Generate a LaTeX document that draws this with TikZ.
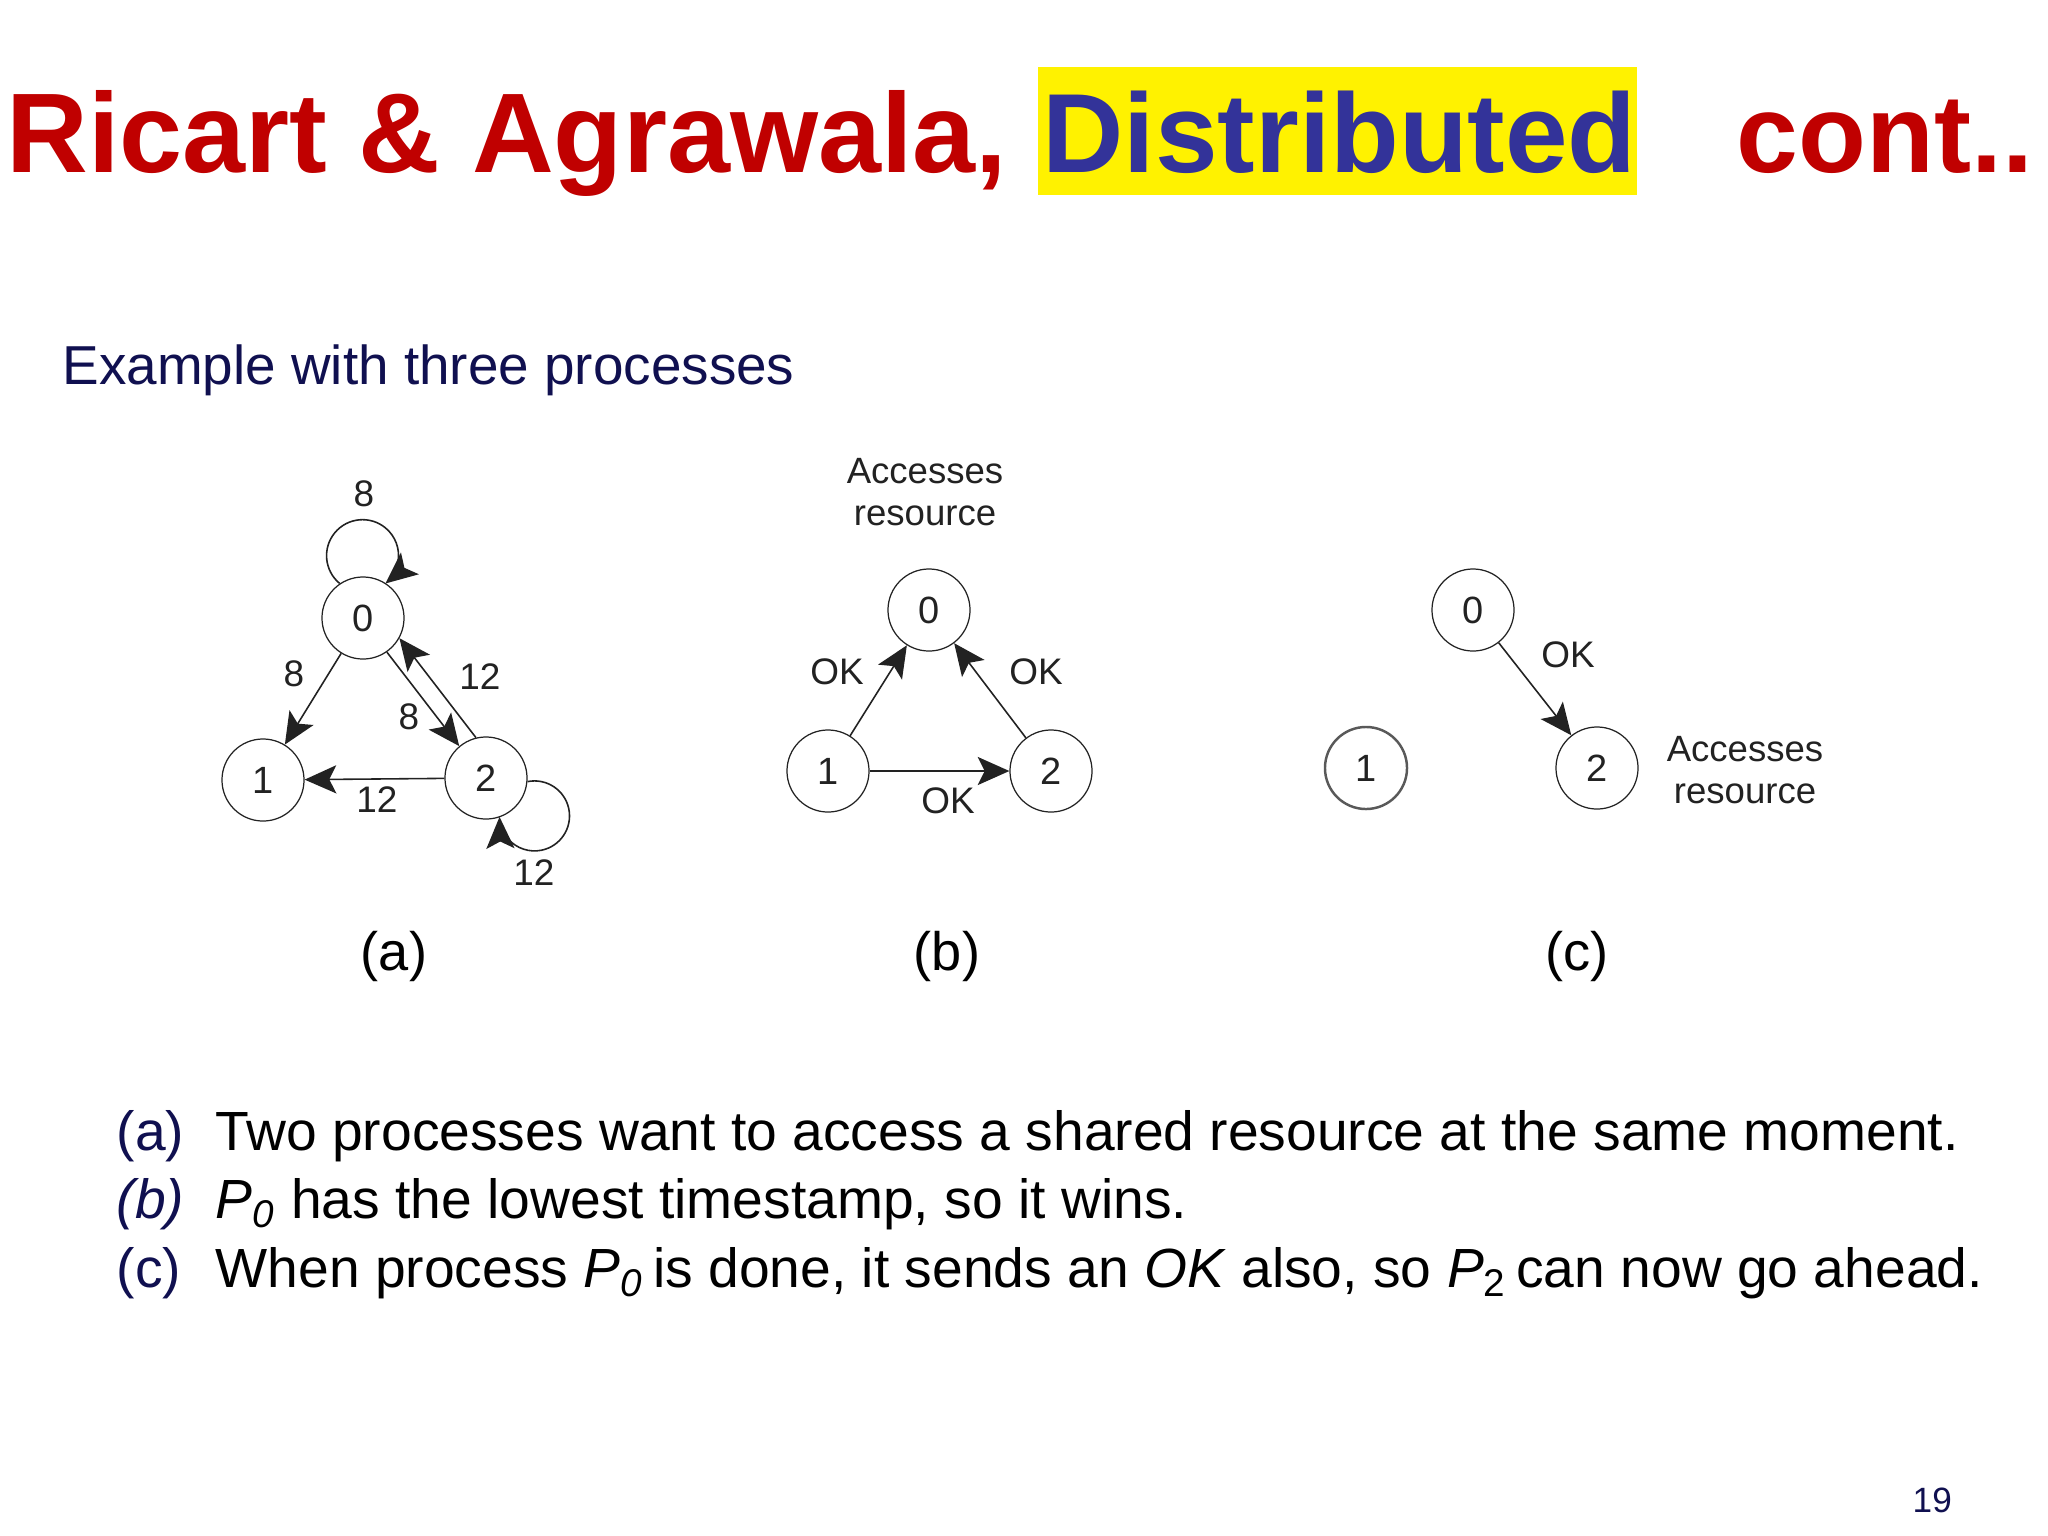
\documentclass[tikz,border=0pt]{standalone}
\usepackage{fontspec}
\setmainfont{Liberation Sans}
\usepackage{xcolor}
\usepackage{tikz}
\usetikzlibrary{arrows.meta}

\definecolor{titlered}{RGB}{192,0,0}
\definecolor{titleblue}{RGB}{51,51,153}
\definecolor{navy}{RGB}{16,16,80}
\definecolor{ink}{RGB}{34,34,34}

\begin{document}
\begin{tikzpicture}[x=0.01cm, y=0.01cm,
	proc/.style={circle, draw=ink, line width=0.35pt, minimum size=0.82cm, inner sep=0pt, text=ink, font=\fontsize{10.8}{12}\selectfont},
	msg/.style={draw=ink, line width=0.45pt, -{Stealth[length=9pt, width=8pt, inset=2pt]}},
	lbl/.style={text=ink, inner sep=0pt, font=\fontsize{10.5}{11}\selectfont},
	note/.style={text=ink, inner sep=0pt, align=center, font=\fontsize{10.4}{11.8}\selectfont},
	body/.style={anchor=base west, inner sep=0pt, font=\fontsize{15.7}{18}\selectfont}]
	\fill[white] (0,0) rectangle (2048,-1536);
	\useasboundingbox (0,0) rectangle (2048,-1536);

	% title
	\fill[yellow] (1038,-67) rectangle (1637,-195);
	\node[anchor=base west, inner sep=0pt, text=titlered, font=\fontsize{32.2}{36}\selectfont\bfseries] (ttl) at (6,-172) {Ricart \& Agrawala,};
	\node[anchor=base west, inner sep=0pt, text=titleblue, font=\fontsize{32}{36}\selectfont\bfseries] (ttldist) at (1042,-172) {Distributed};
	\node[anchor=base west, inner sep=0pt, text=titlered, font=\fontsize{31.6}{36}\selectfont\bfseries] (ttlcont) at (1736,-172) {cont..};
	\node[body, text=navy, font=\fontsize{15.6}{18}\selectfont] (sub) at (62,-384) {Example with three processes};

	% (a)
	\foreach \n/\x/\y in {0/363/-618, 1/263/-780, 2/486/-778}
		\node[proc] (a\n) at (\x,\y) {\n};
	\draw[msg] (a0) -- (a1);
	\draw[msg] (a0.-55.3) -- (a2.130.3);
	\draw[msg] (a2.104.5) -- (a0.-29.5);
	\draw[msg] (a2) -- (a1);
	\draw[msg] (a0.124) arc[start angle=230.6, end angle=-50.6, radius=36];
	\draw[msg] (a2.-5.6) arc[start angle=101.6, end angle=-178.4, radius=35];
	\foreach \i/\x/\y/\t in {1/364/-494/8, 2/294/-674/8, 3/409/-717/8, 4/480/-677/12, 5/377/-800/12, 6/534/-873/12}
		\node[lbl] (la\i) at (\x,\y) {\t};

	% (b)
	\foreach \n/\x/\y in {0/929/-610, 1/828/-771, 2/1051/-771}
		\node[proc] (b\n) at (\x,\y) {\n};
	\draw[msg] (b1) -- (b0);
	\draw[msg] (b2) -- (b0);
	\draw[msg] (b1) -- (b2);
	\foreach \i/\x/\y in {1/837/-672, 2/1036/-672, 3/948/-801}
		\node[lbl] (lb\i) at (\x,\y) {OK};
	\node[note] (accb) at (925,-492) {Accesses\\resource};

	% (c)
	\foreach \n/\x/\y in {0/1473/-610, 2/1597/-768}
		\node[proc] (c\n) at (\x,\y) {\n};
	\node[proc, draw=ink!75, line width=0.7pt] (c1) at (1366,-768) {1};
	\draw[msg] (c0) -- (c2);
	\node[lbl] (lc1) at (1568,-655) {OK};
	\node[note] (accc) at (1745,-770) {Accesses\\resource};

	% captions
	\foreach \s/\x in {a/394, b/947, c/1577}
		\node[inner sep=0pt, font=\fontsize{15.4}{18}\selectfont] (cap\s) at (\x,-956) {(\s)};

	% explanation
	\node[body, text=navy] (ka) at (116,-1150) {(a)};
	\node[body] (ta) at (215,-1150) {Two processes want to access a shared resource at the same moment.};
	\node[body, text=navy] (kb) at (116,-1218) {\textit{(b)}};
	\node[body] (tb) at (215,-1218) {\textit{P}\textsubscript{\textit{0}} has the lowest timestamp, so it wins.};
	\node[body, text=navy] (kc) at (116,-1287) {(c)};
	\node[body] (tc) at (215,-1287) {When process \textit{P}\textsubscript{\textit{0}}\,is done, it sends an \textit{OK} also, so \textit{P}\textsubscript{2}\,can now go ahead.};

	\node[anchor=base west, inner sep=0pt, text=navy, font=\fontsize{10}{12}\selectfont] (pg) at (1912,-1512) {19};
\end{tikzpicture}
\end{document}
